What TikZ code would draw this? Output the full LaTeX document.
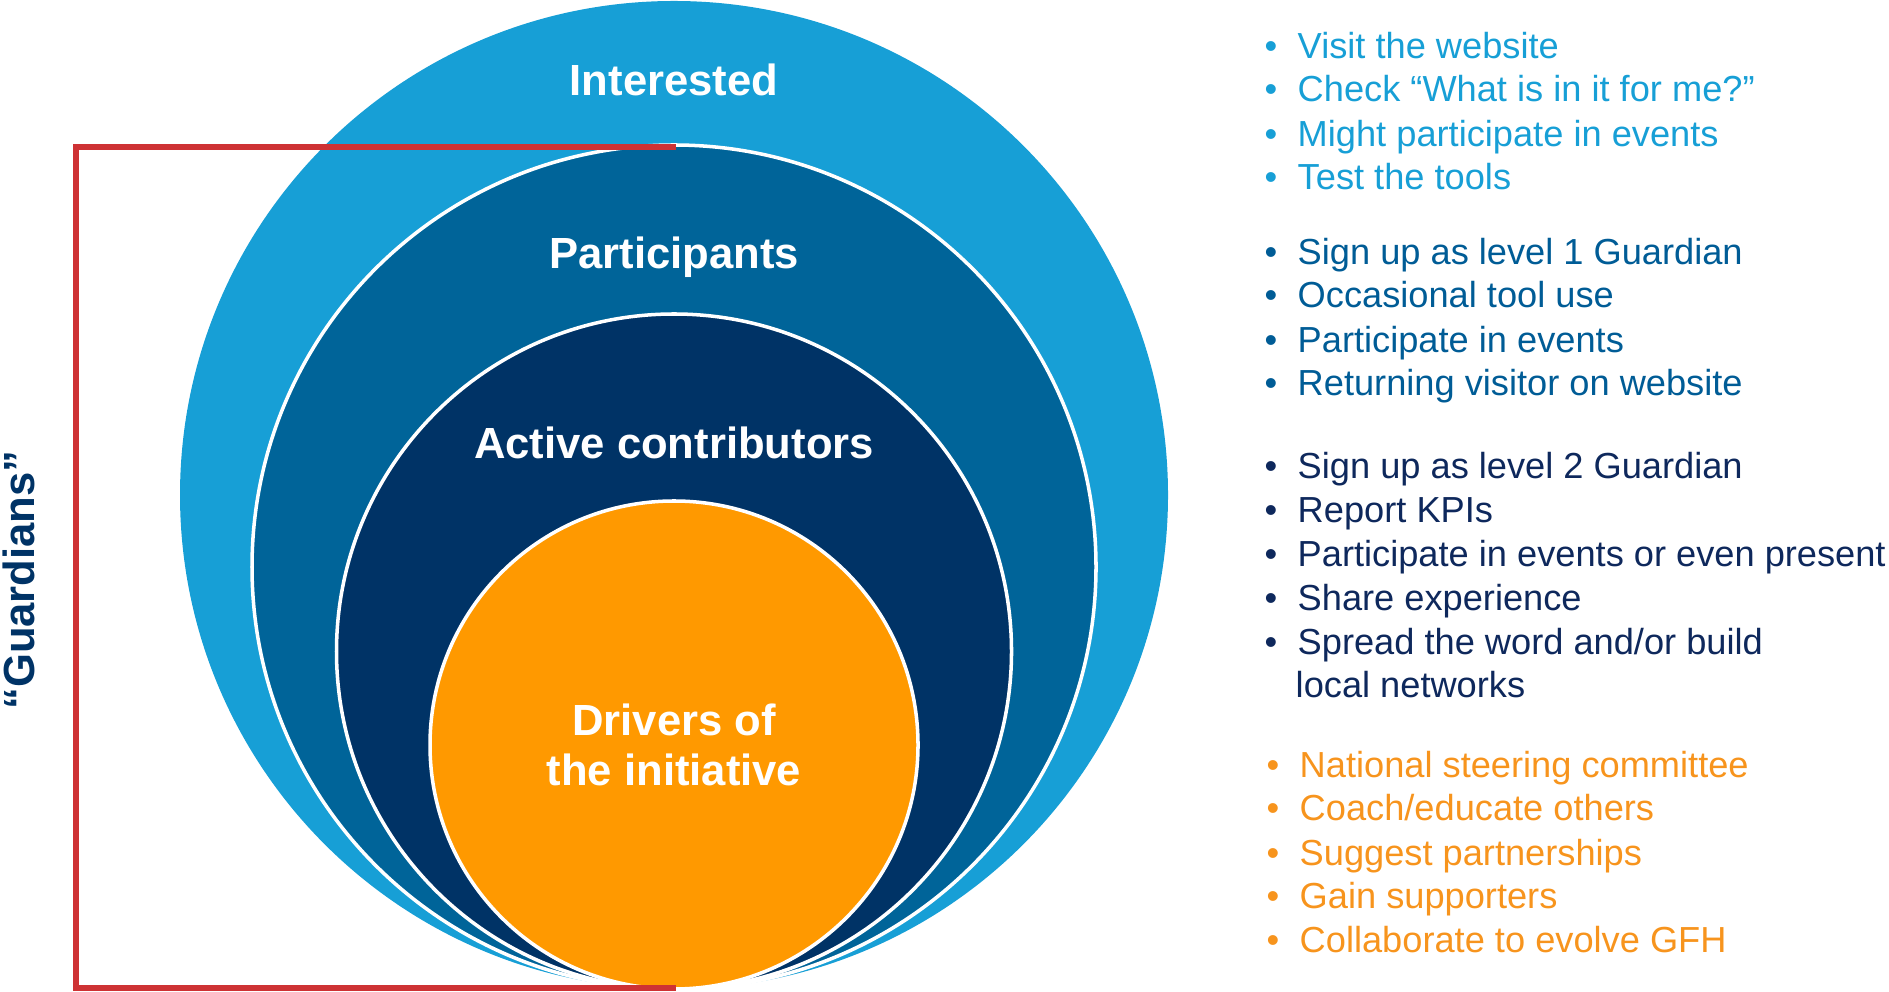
\documentclass[tikz,border=0pt]{standalone}
\usepackage{fontspec}
\setmainfont{Liberation Sans}
\usetikzlibrary{positioning}
\definecolor{interestblue}{RGB}{23,159,214}
\definecolor{partblue}{RGB}{0,100,153}
\definecolor{activenavy}{RGB}{0,51,102}
\definecolor{driverorange}{RGB}{255,153,0}
\definecolor{guardred}{RGB}{206,50,52}
\definecolor{parttext}{RGB}{0,92,150}
\definecolor{activetext}{RGB}{14,40,92}
\definecolor{drivertext}{RGB}{247,148,29}
\newcommand{\itemdot}{\makebox[0.33cm][l]{•}}
\tikzset{
  ring/.style   = {draw=white, line width=1pt},
  lbl/.style    = {text=white, font=\fontsize{12.4}{14.2}\selectfont\bfseries,
                   inner sep=0pt, anchor=base},
  item/.style   = {font=\fontsize{10.3}{12.4}\selectfont, inner sep=0pt, anchor=base west},
  guard/.style  = {draw=guardred, line width=1.5pt},
}

\begin{document}
\begin{tikzpicture}[
    x=0.01cm, y=-0.01cm,
    intitem/.style={item, text=interestblue},
    partitem/.style={item, text=parttext},
    actitem/.style={item, text=activetext},
    drvitem/.style={item, text=drivertext}
]

\useasboundingbox (0,0) rectangle (1889,992);

% nested circles, all touching at the bottom
\fill[interestblue] (674,495) circle (494);
\filldraw[ring, fill=partblue] (674,567) circle (422);
\filldraw[ring, fill=activenavy] (674,651.5) circle (337.5);
\filldraw[ring, fill=driverorange] (674,745) circle (244);

\node[lbl] (interested) at (674,96) {Interested};
\node[lbl] (participants) at (674,269) {Participants};
\node[lbl] (active) at (674,459) {Active contributors};
\node[lbl, anchor=center, align=center] (drivers) at (674,745) {Drivers of\\the initiative};

% guardians bracket
\coordinate (btop) at (676,147);
\coordinate (bbot) at (676,988);
\draw[guard] (btop) -- (76,147) -- (76,988) -- (bbot);
\node[rotate=90, text=activenavy, font=\fontsize{12.4}{14.2}\selectfont\bfseries]
  (guardians) at (19,580) {“Guardians”};

% lists
\node[intitem] (i1) at (1264,59) {\itemdot Visit the website};
\node[intitem] (i2) at (1264,102) {\itemdot Check “What is in it for me?”};
\node[intitem] (i3) at (1264,147) {\itemdot Might participate in events};
\node[intitem] (i4) at (1264,190) {\itemdot Test the tools};

\node[partitem] (p1) at (1264,265) {\itemdot Sign up as level 1 Guardian};
\node[partitem] (p2) at (1264,308) {\itemdot Occasional tool use};
\node[partitem] (p3) at (1264,353) {\itemdot Participate in events};
\node[partitem] (p4) at (1264,396) {\itemdot Returning visitor on website};

\node[actitem] (a1) at (1264,479) {\itemdot Sign up as level 2 Guardian};
\node[actitem] (a2) at (1264,523) {\itemdot Report KPIs};
\node[actitem] (a3) at (1264,567) {\itemdot Participate in events or even present};
\node[actitem] (a4) at (1264,611) {\itemdot Share experience};
\node[actitem] (a5) at (1264,654) {\itemdot Spread the word and/or build};
\node[actitem] (a6) at (1295,697) {local networks};

\node[drvitem] (d1) at (1266,777) {\itemdot National steering committee};
\node[drvitem] (d2) at (1266,820) {\itemdot Coach/educate others};
\node[drvitem] (d3) at (1266,865) {\itemdot Suggest partnerships};
\node[drvitem] (d4) at (1266,908) {\itemdot Gain supporters};
\node[drvitem] (d5) at (1266,952) {\itemdot Collaborate to evolve GFH};

\end{tikzpicture}
\end{document}
